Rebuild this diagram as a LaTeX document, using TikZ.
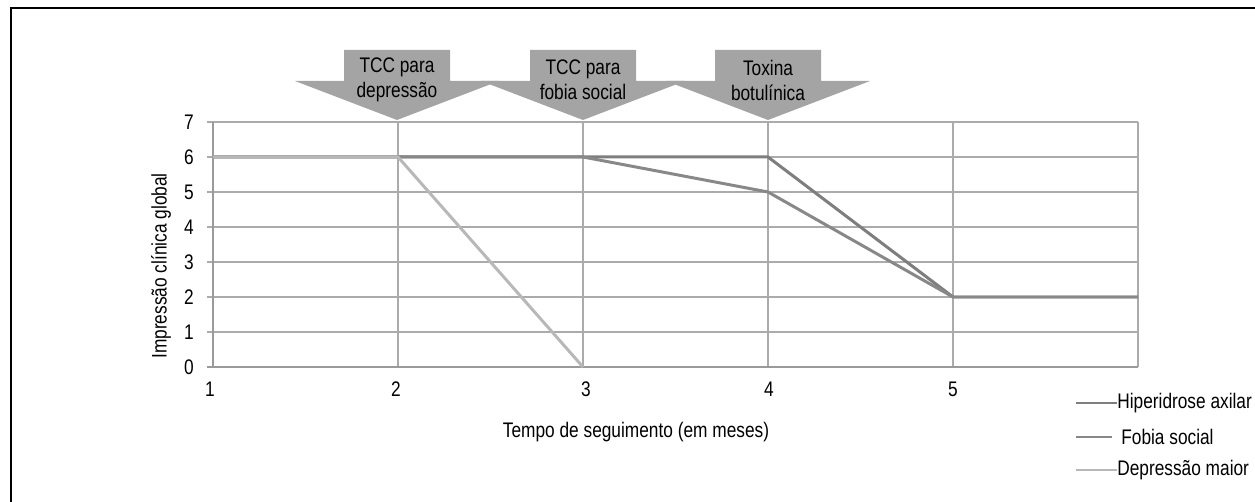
\documentclass[tikz,border=0pt]{standalone}
\usepackage{fontspec}
\setmainfont{Liberation Sans}[FakeStretch=0.82]
\definecolor{gridgray}{HTML}{ABABAB}
\definecolor{axisgray}{HTML}{9A9A9A}
\definecolor{darkline}{HTML}{7E7E7E}
\definecolor{midline}{HTML}{888888}
\definecolor{lightline}{HTML}{B8B8B8}
\definecolor{markgray}{HTML}{A4A4A4}
\begin{document}
\begin{tikzpicture}[x=0.02cm, y=-0.02cm, font=\fontsize{12}{14.2}\selectfont,
  grid/.style={draw=gridgray, line width=0.9pt},
  axis/.style={draw=axisgray, line width=1.1pt},
  marker/.style={fill=markgray},
  txt/.style={inner sep=0pt},
  hip/.style={draw=darkline, line width=1.7pt, line join=round},
  fob/.style={draw=midline, line width=1.7pt, line join=round},
  dep/.style={draw=lightline, line width=1.7pt, line join=round}]
\useasboundingbox (0,0) rectangle (1255,502);
% frame
\draw[line width=0.9pt] (11,502) -- (11,8) -- (1255,8);
% grid
\draw[grid] (207,122) -- (1138,122);
\draw[grid] (207,157) -- (1138,157);
\draw[grid] (207,192) -- (1138,192);
\draw[grid] (207,227) -- (1138,227);
\draw[grid] (207,262) -- (1138,262);
\draw[grid] (207,297) -- (1138,297);
\draw[grid] (207,332) -- (1138,332);
\draw[grid] (398,122) -- (398,367);
\draw[grid] (583,122) -- (583,367);
\draw[grid] (768,122) -- (768,367);
\draw[grid] (953,122) -- (953,367);
\draw[grid] (1138,122) -- (1138,367);
\draw[axis] (213,122) -- (213,367);
\draw[axis] (207,367) -- (1138,367);
% arrows
\fill[marker] (344,50) -- (450,50) -- (450,81) -- (499,81) -- (397,120) -- (295,81) -- (344,81) -- cycle;
\fill[marker] (530,50) -- (636,50) -- (636,81) -- (685,81) -- (583,120) -- (481,81) -- (530,81) -- cycle;
\fill[marker] (715,50) -- (821,50) -- (821,81) -- (870,81) -- (768,120) -- (666,81) -- (715,81) -- cycle;
\node[txt, align=center] (a1) at (397,80) {TCC para\\depressão};
\node[txt, align=center] (a2) at (583,80) {TCC para\\fobia social};
\node[txt, align=center] (a3) at (768,80) {Toxina\\botulínica};
% axes labels
\node[txt, anchor=east] (y0) at (194,367) {0};
\node[txt, anchor=east] (y1) at (194,332) {1};
\node[txt, anchor=east] (y2) at (194,297) {2};
\node[txt, anchor=east] (y3) at (194,262) {3};
\node[txt, anchor=east] (y4) at (194,227) {4};
\node[txt, anchor=east] (y5) at (194,192) {5};
\node[txt, anchor=east] (y6) at (194,157) {6};
\node[txt, anchor=east] (y7) at (194,122) {7};
\node[txt] (x1) at (210,389) {1};
\node[txt] (x2) at (396,389) {2};
\node[txt] (x3) at (586,389) {3};
\node[txt] (x4) at (769,389) {4};
\node[txt] (x5) at (953,389) {5};
\node[txt, rotate=90] (ytitle) at (161,266) {Impressão clínica global};
\node[txt] (xtitle) at (636,432) {Tempo de seguimento (em meses)};
% series
\coordinate (h1) at (213,157);
\coordinate (h2) at (398,157);
\coordinate (h3) at (583,157);
\coordinate (h4) at (768,157);
\coordinate (h5) at (953,297);
\coordinate (h6) at (1138,297);
\coordinate (f4) at (768,192);
\coordinate (d3) at (583,367);
\draw[hip] (h1) -- (h2) -- (h3) -- (h4) -- (h5) -- (h6);
\draw[fob] (h1) -- (h2) -- (h3) -- (f4) -- (h5) -- (h6);
\draw[dep] (h1) -- (h2) -- (d3);
% legend
\coordinate (lh) at (1076,403);
\coordinate (lf) at (1076,437);
\coordinate (ld) at (1076,470);
\node[txt, anchor=west] (th) at (1117,403) {Hiperidrose axilar};
\node[txt, anchor=west] (tf) at (1121,437) {Fobia social};
\node[txt, anchor=west] (td) at (1117,470) {Depressão maior};
\draw[hip] (lh) -- (th.west);
\draw[fob] (lf) -- ++(36,0);
\draw[dep] (ld) -- (td.west);
\end{tikzpicture}
\end{document}
